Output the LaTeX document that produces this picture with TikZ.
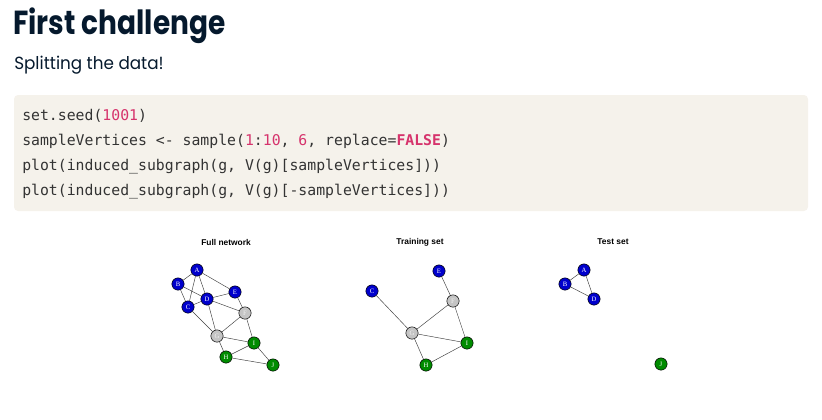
\documentclass[tikz,border=0pt]{standalone}
\usepackage{fontspec}
\setmainfont{Liberation Serif}
\newfontfamily\titlefont[FakeStretch=0.84]{Poppins}
\newfontfamily\subfont[FakeStretch=0.955]{Poppins}
\newfontfamily\codefont{DejaVu Sans Mono}
\newfontfamily\plotfont{Liberation Sans}
\definecolor{navy}{HTML}{05192D}
\definecolor{codebg}{HTML}{F5F2EB}
\definecolor{codetxt}{HTML}{333333}
\definecolor{codenum}{HTML}{D6336C}
\definecolor{vblue}{HTML}{0000CC}
\definecolor{vgreen}{HTML}{008B00}
\definecolor{vgray}{HTML}{C4C4C4}
\begin{document}
\begin{tikzpicture}[x=0.75pt,y=-0.75pt,
  vtx/.style={circle,draw=black,line width=0.4pt,minimum size=9.2pt,inner sep=0pt,
    font=\fontsize{5}{5}\selectfont,text=white},
  bv/.style={vtx,fill=vblue},
  gv/.style={vtx,fill=vgreen},
  yv/.style={vtx,fill=vgray,text=white!90!gray},
  edge/.style={draw=black!75,line width=0.35pt},
  ptitle/.style={font=\plotfont\bfseries\fontsize{6.3}{6.3}\selectfont,anchor=center},
  codeline/.style={anchor=base west,inner sep=0pt,font=\codefont\fontsize{11.1}{12}\selectfont,text=codetxt}]
\useasboundingbox (0,0) rectangle (822,419);
% title
\node[anchor=base west,inner sep=0pt,text=navy,font=\titlefont\bfseries\fontsize{25}{30}\selectfont] (title) at (13,34) {First challenge};
\node[anchor=base west,inner sep=0pt,text=navy,font=\subfont\fontsize{13.2}{16}\selectfont] (sub) at (14,69) {Splitting the data!};
% code box
\fill[codebg,rounded corners=3pt] (14,95) rectangle (808,211);
\node[codeline] (c1) at (22,120) {set.seed(\textcolor{codenum}{1001})};
\node[codeline] (c2) at (22,145) {sampleVertices <- sample(\textcolor{codenum}{1}:\textcolor{codenum}{10}, \textcolor{codenum}{6}, replace=\textcolor{codenum}{\bfseries FALSE})};
\node[codeline] (c3) at (22,170) {plot(induced\_subgraph(g, V(g)[sampleVertices]))};
\node[codeline] (c4) at (22,195) {plot(induced\_subgraph(g, V(g)[-sampleVertices]))};
% plot titles
\node[ptitle] (t1) at (226,242) {Full network};
\node[ptitle] (t2) at (420,242) {Training set};
\node[ptitle] (t3) at (613,242) {Test set};
% full network
\node[bv] (A) at (197,270) {A};
\node[bv] (B) at (178,284) {B};
\node[bv] (C) at (188,307) {C};
\node[bv] (D) at (207,299) {D};
\node[bv] (E) at (235,292) {E};
\node[yv] (F) at (245,313) {F};
\node[yv] (G) at (217,336) {G};
\node[gv] (I) at (254,343) {I};
\node[gv] (H) at (226,357) {H};
\node[gv] (J) at (273,365) {J};
\path[edge] (A)--(B) (A)--(C) (A)--(D) (A)--(E) (B)--(C) (B)--(D) (C)--(D) (C)--(G)
  (D)--(E) (D)--(F) (D)--(G) (E)--(F) (F)--(G) (F)--(I) (G)--(I) (G)--(H) (H)--(I) (H)--(J) (I)--(J);
% training set
\node[bv] (tE) at (439,271) {E};
\node[bv] (tC) at (372,291) {C};
\node[yv] (tF) at (453,301) {F};
\node[yv] (tG) at (412,333) {G};
\node[gv] (tI) at (467,343) {I};
\node[gv] (tH) at (426,365) {H};
\path[edge] (tC)--(tG) (tE)--(tF) (tF)--(tG) (tF)--(tI) (tG)--(tI) (tG)--(tH) (tH)--(tI);
% test set
\node[bv] (sA) at (584,270) {A};
\node[bv] (sB) at (565,284) {B};
\node[bv] (sD) at (594,299) {D};
\node[gv] (sJ) at (661,364) {J};
\path[edge] (sA)--(sB) (sA)--(sD) (sB)--(sD);
\end{tikzpicture}
\end{document}
